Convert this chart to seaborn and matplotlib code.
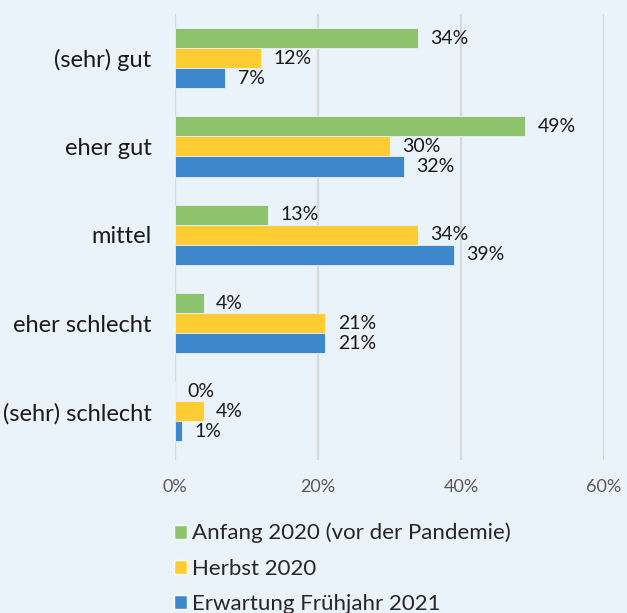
import seaborn as sns
import pandas as pd
import matplotlib.pyplot as plt
from matplotlib.patches import Patch

categories = ["(sehr) gut", "eher gut", "mittel", "eher schlecht", "(sehr) schlecht"]
series = ["Anfang 2020 (vor der Pandemie)", "Herbst 2020", "Erwartung Frühjahr 2021"]
anfang_2020 = [34, 49, 13, 4, 0]
herbst_2020 = [12, 30, 34, 21, 4]
erwartung_2021 = [7, 32, 39, 21, 1]
xticks = [0, 20, 40, 60]

colors = ["#8DC36C", "#FFCC33", "#3D87CD"]
bg = "#EAF2FA"

rows = []
for name, vals in zip(series, [anfang_2020, herbst_2020, erwartung_2021]):
    for cat, v in zip(categories, vals):
        rows.append({"kategorie": cat, "serie": name, "wert": v})
df = pd.DataFrame(rows)

sns.set_style("white")
plt.rcParams["font.family"] = ["Lato", "DejaVu Sans"]

fig = plt.figure(figsize=(6.27, 6.13), dpi=100, facecolor=bg)
ax = fig.add_axes([175/627, 1 - 460/613, (604 - 175)/627, (460 - 14)/613])
ax.set_facecolor(bg)

sns.barplot(data=df, x="wert", y="kategorie", hue="serie", order=categories,
            hue_order=series, palette=colors, saturation=1, orient="h", width=0.68,
            edgecolor=bg, linewidth=0.6, legend=False, ax=ax)

for cont in ax.containers:
    ax.bar_label(cont, labels=[f"{int(b.get_width())}%" for b in cont],
                 padding=9, fontsize=14, color="#1a1a1a")

ax.set_xlim(0, 60)
ax.set_ylim(4.55, -0.5)
ax.set_xticks(xticks)
ax.set_xticklabels([f"{t}%" for t in xticks], fontsize=13, color="#595959")
ax.xaxis.grid(True, color="#D6D9DC", linewidth=1.6)
ax.set_axisbelow(True)
ax.tick_params(axis="y", length=0, labelsize=17, pad=17, labelcolor="#1a1a1a")
ax.tick_params(axis="x", length=0, pad=14)
ax.set_xlabel("")
ax.set_ylabel("")
sns.despine(ax=ax, left=True, bottom=True)

handles = [Patch(facecolor=c, label=s) for c, s in zip(colors, series)]
fig.legend(handles=handles, loc="upper left", bbox_to_anchor=(165/627, 1 - 514/613),
           frameon=False, fontsize=16, handlelength=0.6, handleheight=0.6,
           handletextpad=0.2, labelspacing=0.69, borderaxespad=0)

fig.savefig("out.png", dpi=100, facecolor=bg)
